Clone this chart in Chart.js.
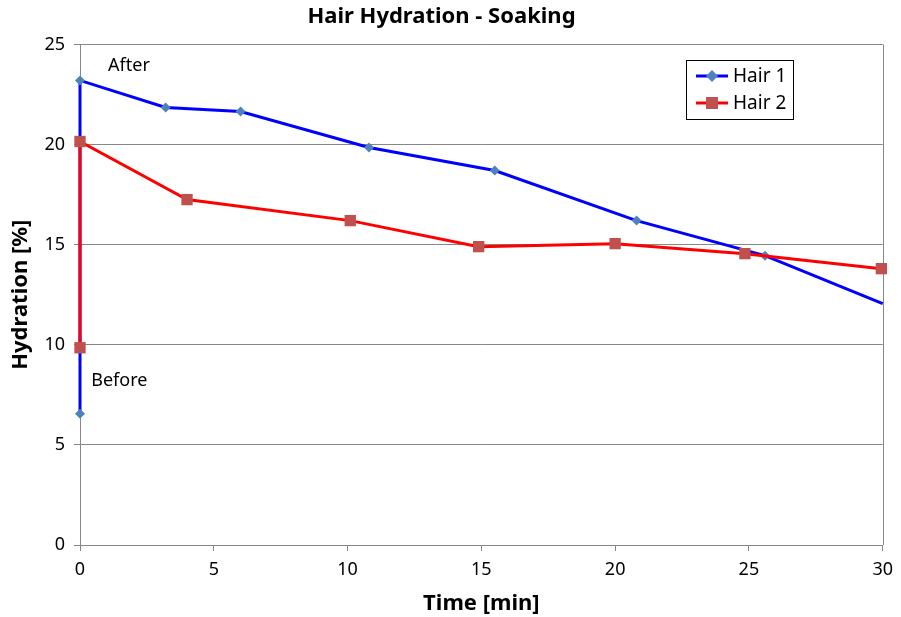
<!DOCTYPE html>
<html>
<head>
<meta charset="utf-8">
<script src="https://cdn.jsdelivr.net/npm/chart.js@4.4.1/dist/chart.umd.min.js"></script>
<style>
  html, body { margin: 0; padding: 0; background: #fff; }
  #wrap { width: 901px; height: 617px; }
</style>
</head>
<body>
<div id="wrap"><canvas id="hydrationChart" width="901" height="617"></canvas></div>
<script>
// data
const hair1Time = [0, 0, 3.2, 6.0, 10.8, 15.5, 20.8, 25.6, 30];
const hair1Hydration = [6.55, 23.2, 21.85, 21.65, 19.85, 18.7, 16.2, 14.45, 12.05];
const hair2Time = [0, 0, 4.0, 10.1, 14.9, 20.0, 24.85, 29.95];
const hair2Hydration = [9.85, 20.15, 17.25, 16.2, 14.9, 15.05, 14.55, 13.8];
const xTicks = [0, 5, 10, 15, 20, 25, 30];
const yTicks = [0, 5, 10, 15, 20, 25];
const notes = [
    { text: 'After', x: 1.05, y: 23.95 },
    { text: 'Before', x: 0.42, y: 8.2 }
];

const FONT = "'Noto Sans', 'Open Sans', sans-serif";
const GRID = '#878787';

function toPoints(xs, ys) {
    return xs.map((x, i) => ({ x: x, y: ys[i] }));
}

// gray border around the plot area (right side)
const frame = {
    id: 'frame',
    beforeDatasetsDraw(chart) {
        const a = chart.chartArea;
        const ctx = chart.ctx;
        ctx.save();
        ctx.strokeStyle = GRID;
        ctx.lineWidth = 1;
        ctx.beginPath();
        ctx.moveTo(Math.round(a.right) + 0.5, a.top);
        ctx.lineTo(Math.round(a.right) + 0.5, a.bottom);
        ctx.stroke();
        ctx.restore();
    }
};

// text notes + legend box inside the plot
const extras = {
    id: 'extras',
    afterDraw(chart) {
        const ctx = chart.ctx;
        const xs = chart.scales.x, ys = chart.scales.y;
        ctx.save();
        ctx.fillStyle = '#000';
        ctx.font = '18px ' + FONT;
        ctx.textBaseline = 'middle';
        ctx.textAlign = 'left';
        notes.forEach(n => {
            ctx.fillText(n.text, xs.getPixelForValue(n.x), ys.getPixelForValue(n.y));
        });

        // legend
        const bx = 686, by = 60, bw = 107, bh = 59;
        ctx.fillStyle = '#fff';
        ctx.fillRect(bx, by, bw, bh);
        ctx.strokeStyle = '#000';
        ctx.lineWidth = 1;
        ctx.strokeRect(bx + 0.5, by + 0.5, bw, bh);
        ctx.font = '19px ' + FONT;
        chart.data.datasets.forEach((ds, i) => {
            const cy = by + 16 + i * 27;
            ctx.strokeStyle = ds.borderColor;
            ctx.lineWidth = 3;
            ctx.beginPath();
            ctx.moveTo(bx + 10, cy);
            ctx.lineTo(bx + 42, cy);
            ctx.stroke();
            ctx.fillStyle = ds.pointBackgroundColor;
            if (ds.pointStyle === 'rect') {
                ctx.fillRect(bx + 20, cy - 6, 12, 12);
            } else {
                ctx.beginPath();
                ctx.moveTo(bx + 26, cy - 6);
                ctx.lineTo(bx + 32, cy);
                ctx.lineTo(bx + 26, cy + 6);
                ctx.lineTo(bx + 20, cy);
                ctx.closePath();
                ctx.fill();
            }
            ctx.fillStyle = '#000';
            ctx.fillText(ds.label, bx + 47, cy + 1);
        });
        ctx.restore();
    }
};

const ctx = document.getElementById('hydrationChart');

new Chart(ctx, {
    type: 'scatter',
    data: {
        datasets: [{
            label: 'Hair 1',
            data: toPoints(hair1Time, hair1Hydration),
            showLine: true,
            borderColor: '#0000ff',
            borderWidth: 3,
            pointStyle: 'rectRot',
            pointRadius: hair1Time.map((t, i) => i === hair1Time.length - 1 ? 0 : 5),
            pointBackgroundColor: '#4f81bd',
            pointBorderColor: '#4f81bd',
            pointBorderWidth: 0,
            order: 2
        }, {
            label: 'Hair 2',
            data: toPoints(hair2Time, hair2Hydration),
            showLine: true,
            borderColor: '#ff0000',
            borderWidth: 3,
            pointStyle: 'rect',
            pointRadius: 8,
            pointBackgroundColor: '#c0504d',
            pointBorderColor: '#c0504d',
            pointBorderWidth: 0,
            order: 1
        }]
    },
    options: {
        responsive: false,
        animation: false,
        clip: false,
        layout: { padding: { right: 18, left: 0, bottom: 0, top: 0 } },
        plugins: {
            legend: { display: false },
            tooltip: { enabled: false },
            title: {
                display: true,
                text: 'Hair Hydration - Soaking',
                color: '#000',
                font: { family: FONT, size: 22, weight: 'bold' },
                padding: { top: 4, bottom: 14 }
            }
        },
        scales: {
            x: {
                type: 'linear',
                min: 0,
                max: 30,
                afterBuildTicks: s => { s.ticks = xTicks.map(v => ({ value: v })); },
                afterFit: s => { s.height = 72; },
                grid: { drawOnChartArea: false, drawTicks: true, tickLength: 6, color: GRID },
                border: { color: GRID },
                ticks: { color: '#000', font: { family: FONT, size: 18 }, padding: 8 },
                title: {
                    display: true,
                    text: 'Time [min]',
                    color: '#000',
                    font: { family: FONT, size: 22, weight: 'bold' },
                    padding: { top: 4, bottom: 0 }
                }
            },
            y: {
                min: 0,
                max: 25,
                afterBuildTicks: s => { s.ticks = yTicks.map(v => ({ value: v })); },
                afterFit: s => { s.width = 80; },
                grid: { color: GRID, tickLength: 6 },
                border: { color: GRID },
                ticks: { color: '#000', font: { family: FONT, size: 18 }, padding: 9 },
                title: {
                    display: true,
                    text: 'Hydration [%]',
                    color: '#000',
                    font: { family: FONT, size: 22, weight: 'bold' },
                    padding: { top: 8, bottom: 0 }
                }
            }
        }
    },
    plugins: [frame, extras]
});
</script>
</body>
</html>
